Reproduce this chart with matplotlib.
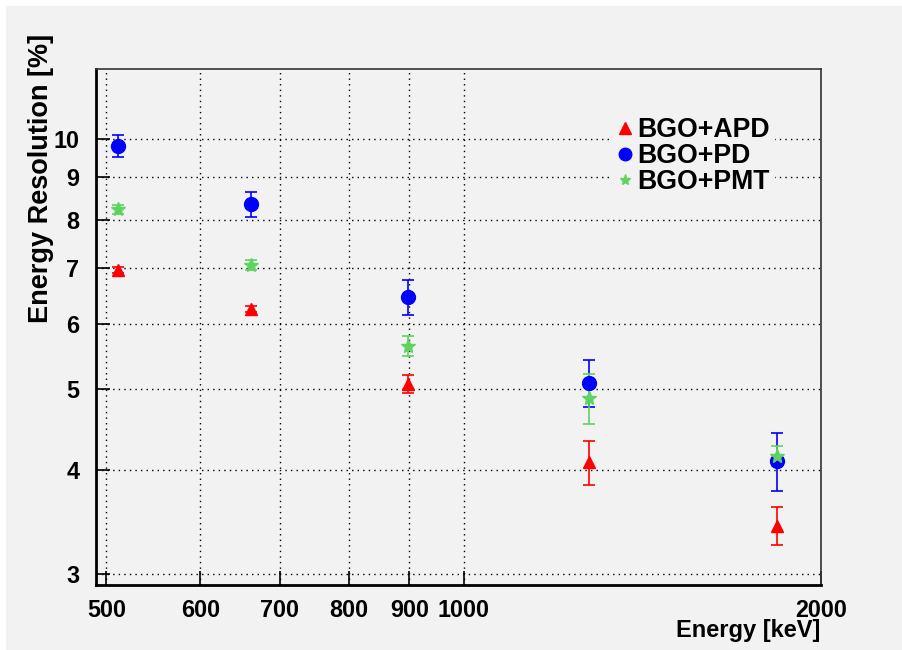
import matplotlib
matplotlib.use('Agg')
import matplotlib.pyplot as plt
from matplotlib.lines import Line2D
from matplotlib.patches import Rectangle
from matplotlib.ticker import FixedLocator, NullLocator, FixedFormatter

plt.rcParams['font.family'] = ['Liberation Sans', 'DejaVu Sans']
plt.rcParams['font.weight'] = 'bold'

# energies of the gamma lines [keV]
energy = [511, 662, 898, 1275, 1836]

# energy resolution [%] and errors
apd = [6.96, 6.25, 5.08, 4.09, 3.43]
apd_err = [0.05, 0.05, 0.13, 0.25, 0.18]
pd_res = [9.81, 8.35, 6.46, 5.09, 4.10]
pd_err = [0.29, 0.28, 0.31, 0.33, 0.33]
pmt = [8.23, 7.06, 5.64, 4.88, 4.16]
pmt_err = [0.11, 0.10, 0.15, 0.34, 0.12]

labels = ['BGO+APD', 'BGO+PD', 'BGO+PMT']
colors = ['#ff0000', '#0000ff', '#5fd35f']
markers = ['^', 'o', '*']

x_ticks = [500, 600, 700, 800, 900, 1000, 2000]
y_ticks = [3, 4, 5, 6, 7, 8, 9, 10]

bg = '#f2f2f2'
W, H = 902, 650

fig = plt.figure(figsize=(W / 100, H / 100), dpi=100, facecolor='white')
fig.patches.append(Rectangle((6 / W, 0), 1 - 6 / W, 1 - 6 / H,
                             transform=fig.transFigure, facecolor=bg,
                             edgecolor='none', zorder=-10))

ax = fig.add_axes([96 / W, 1 - 585 / H, (821 - 96) / W, (585 - 69) / H])
ax.set_facecolor(bg)
ax.set_xscale('log')
ax.set_yscale('log')
ax.set_xlim(490, 2000)
ax.set_ylim(2.91, 12.14)

ax.xaxis.set_major_locator(FixedLocator(x_ticks))
ax.xaxis.set_major_formatter(FixedFormatter([str(t) for t in x_ticks]))
ax.xaxis.set_minor_locator(NullLocator())
ax.yaxis.set_major_locator(FixedLocator(y_ticks))
ax.yaxis.set_major_formatter(FixedFormatter([str(t) for t in y_ticks]))
ax.yaxis.set_minor_locator(NullLocator())

ax.tick_params(direction='in', length=10, width=1.2, labelsize=16.8,
               top=False, right=False)
ax.tick_params(axis='x', pad=10)
ax.tick_params(axis='y', pad=12)
for lab in ax.get_xticklabels() + ax.get_yticklabels():
    lab.set_fontweight('bold')

ax.grid(True, which='major', color='black', linestyle=(0, (1, 3)),
        linewidth=1.0)
ax.set_axisbelow(True)

for side in ['left', 'bottom']:
    ax.spines[side].set_linewidth(2)
for side in ['top', 'right']:
    ax.spines[side].set_linewidth(1.2)
    ax.spines[side].set_color('#333333')

series = [(apd, apd_err, 9), (pd_res, pd_err, 10), (pmt, pmt_err, 10)]
for (vals, errs, ms), c, m in zip(series, colors, markers):
    ax.errorbar(energy, vals, yerr=errs, fmt=m, color=c, markersize=ms,
                capsize=4, elinewidth=1.2, capthick=1.2, zorder=3)

handles = [Line2D([], [], linestyle='none', marker=m, color=c, markersize=ms)
           for m, c, ms in zip(markers, colors, [8, 9, 8])]
leg = ax.legend(handles, labels, loc='upper left',
                bbox_to_anchor=((612 - 96) / (821 - 96), 1 - (112 - 69) / (585 - 69)),
                frameon=True, fancybox=False, facecolor=bg, edgecolor='none',
                framealpha=1, prop={'size': 19.2, 'weight': 'bold'},
                handlelength=0.6, handletextpad=0.15, labelspacing=0.0,
                borderpad=0.2, borderaxespad=0)

fig.text(820 / W, 1 - 630 / H, 'Energy [keV]', ha='right', va='center',
         fontsize=17, fontweight='bold')
fig.text(41 / W, 1 - 34 / H, 'Energy Resolution [%]', ha='center', va='top',
         rotation=90, fontsize=19.5, fontweight='bold')

fig.savefig('out.png', dpi=100, facecolor='white')
